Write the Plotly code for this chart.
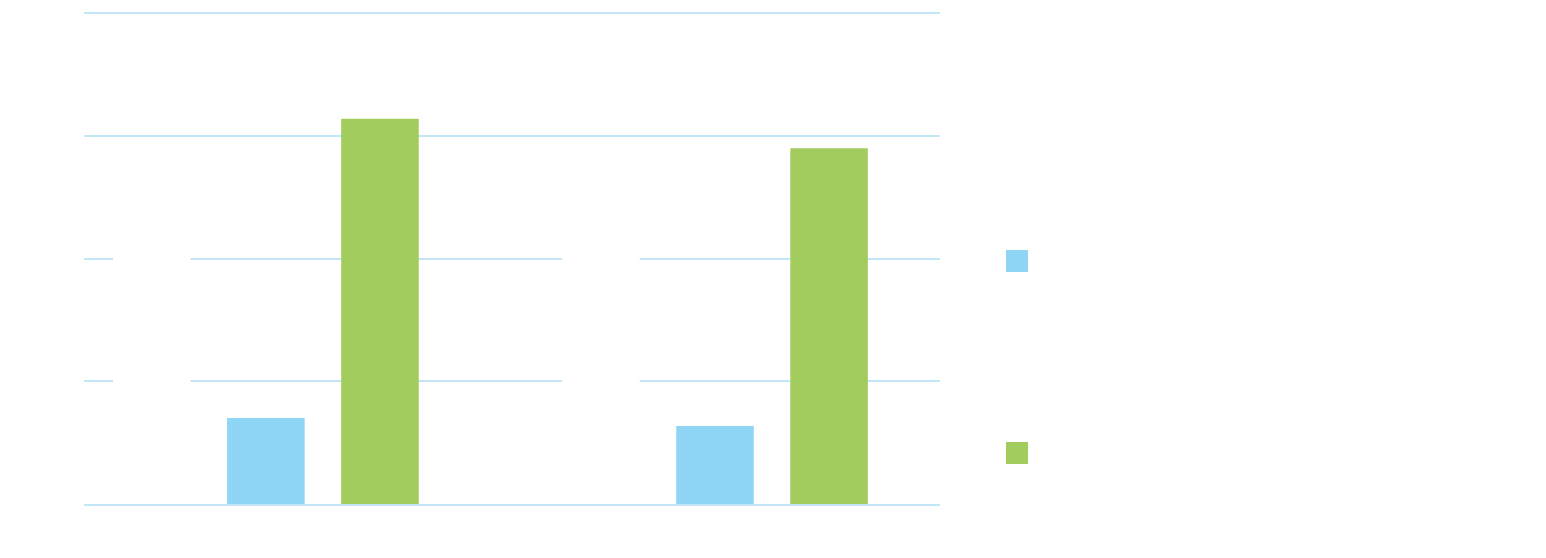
import plotly.graph_objects as go

# data (labels are drawn in white, as in the reference)
categories = ["2019", "2020"]
series_names = ["Target", "Actual", "Forecast"]
series_values = [
    [24.0, 24.0],   # white bars (invisible)
    [7.0, 6.35],
    [31.4, 29.0],
]
series_colors = ["#ffffff", "#8fd5f5", "#a2cd5e"]
y_ticks = [0, 10, 20, 30, 40]
grid_color = "#c2e6f8"

fig = go.Figure()

for name, vals, col in zip(series_names, series_values, series_colors):
    fig.add_trace(go.Bar(
        x=categories, y=vals, name=name,
        marker=dict(color=col, line=dict(width=0)),
        text=[f"{v:.1f}%<br> " for v in vals],
        textposition="outside",
        textfont=dict(color="#ffffff", size=14, family="Open Sans"),
        cliponaxis=False,
        showlegend=False,
    ))

# page body has an 8px margin, so work in figure-local pixels
W, H = 1538, 550
plot_l, plot_r, plot_t, plot_b = 76, 932, 4, 496
pw, ph = plot_r - plot_l, plot_b - plot_t

# legend drawn as shapes + white labels
legend_tops = [50, 242, 434]
for name, col, top in zip(series_names, series_colors, legend_tops):
    x0 = (998 - plot_l) / pw
    x1 = (1020 - plot_l) / pw
    y1 = (plot_b - top) / ph
    y0 = (plot_b - top - 22) / ph
    fig.add_shape(type="rect", xref="paper", yref="paper",
                  x0=x0, x1=x1, y0=y0, y1=y1,
                  fillcolor=col, line=dict(width=0), layer="above")
    fig.add_annotation(xref="paper", yref="paper", x=(1032 - plot_l) / pw,
                       y=(y0 + y1) / 2, text=name, showarrow=False,
                       xanchor="left", font=dict(color="#ffffff", size=14))

fig.update_layout(
    width=W, height=H,
    margin=dict(l=plot_l, r=W - plot_r, t=plot_t, b=H - plot_b),
    paper_bgcolor="#ffffff", plot_bgcolor="#ffffff",
    barmode="group", bargap=0.238, bargroupgap=0.32,
    font=dict(family="Open Sans", color="#ffffff", size=14),
    showlegend=False,
)
fig.update_xaxes(type="category", range=[-0.405, 1.501], showgrid=False,
                 showline=True, linecolor=grid_color, linewidth=2,
                 zeroline=False, ticks="",
                 tickfont=dict(color="#ffffff", size=14))
fig.update_yaxes(range=[0, 40.1], tickvals=y_ticks, showgrid=True,
                 gridcolor=grid_color, gridwidth=2, zeroline=False,
                 showline=False, tickfont=dict(color="#ffffff", size=14))

fig.write_html("out.html")
